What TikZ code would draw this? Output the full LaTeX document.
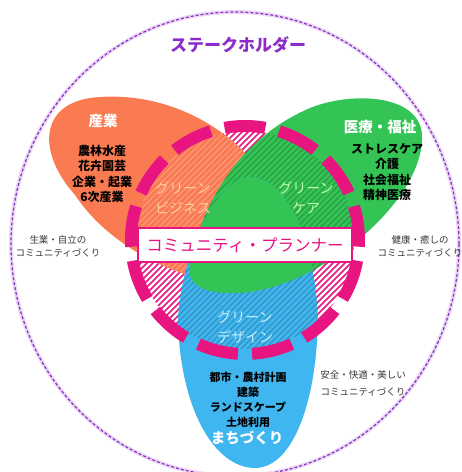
\documentclass[tikz,border=0pt]{standalone}
\usepackage{fontspec}
\setmainfont{Noto Sans CJK JP}
\usetikzlibrary{calc}

\definecolor{sangyo}{RGB}{250,122,82}
\definecolor{fukushi}{RGB}{52,196,86}
\definecolor{machi}{RGB}{64,182,240}
\definecolor{planner}{RGB}{232,20,128}
\definecolor{holder}{RGB}{140,44,200}
\definecolor{bizlight}{RGB}{255,205,160}
\definecolor{carelight}{RGB}{190,255,170}
\definecolor{designlight}{RGB}{195,240,255}
\definecolor{sidegray}{RGB}{55,55,55}

\tikzset{
  holdertext/.style={font=\fontsize{17}{20}\selectfont\bfseries, text=holder, inner sep=0pt},
  headtext/.style={font=\fontsize{14.5}{17}\selectfont\bfseries, text=white, inner sep=0pt},
  bodytext/.style={font=\fontsize{12}{15.5}\selectfont\bfseries, align=center, inner sep=0pt},
  greentext/.style={font=\fontsize{14}{20}\selectfont, align=center, inner sep=0pt},
  sidetext/.style={font=\fontsize{9.5}{13}\selectfont, text=sidegray, align=center, inner sep=0pt},
  plannerbox/.style={draw=planner, line width=2pt, fill=white, text=planner,
    font=\fontsize{16.5}{19}\selectfont, minimum width=214pt, minimum height=34pt, inner sep=0pt},
}

% petals
\newcommand\petalsangyo{(275,285) .. controls (200,292) and (115,255) .. (75,195)
  .. controls (35,150) and (40,100) .. (100,97) .. controls (175,92) and (250,135) .. (280,205)
  .. controls (295,245) and (295,283) .. (275,285) -- cycle}
\newcommand\petalfukushi{(190,265) .. controls (200,210) and (235,140) .. (310,108)
  .. controls (355,90) and (425,95) .. (422,140) .. controls (420,200) and (330,280) .. (250,292)
  .. controls (215,296) and (185,290) .. (190,265) -- cycle}
\newcommand\petalmachi{(250,177) .. controls (290,177) and (316,250) .. (318,320)
  .. controls (316,410) and (290,468) .. (255,468) .. controls (215,468) and (180,410) .. (178,320)
  .. controls (180,260) and (215,177) .. (250,177) -- cycle}
\newcommand\hatch[1]{\foreach \c in {320,326,...,656} \draw[#1] ({\c-120},120) -- ({\c-360},360);}

\begin{document}
\begin{tikzpicture}[x=1pt,y=-1pt]
  \useasboundingbox (0,0) rectangle (462,472);
  \coordinate (ring) at (245,240);

  % stakeholder circle
  \draw[holder!18, line width=4pt] (235,244) ellipse [x radius=224, y radius=232];
  \draw[holder, line width=1.2pt, dash pattern=on 3pt off 2pt] (235,244) ellipse [x radius=224, y radius=232];

  % inside of the ring
  \begin{scope}
    \clip (ring) circle [radius=109];
    \fill[white] (ring) circle [radius=109];
    \hatch{planner, line width=1.5pt}
  \end{scope}

  \fill[sangyo] \petalsangyo;
  \begin{scope}
    \clip (ring) circle [radius=109];
    \clip \petalsangyo;
    \hatch{white, opacity=.3, line width=1pt}
  \end{scope}

  \fill[fukushi] \petalfukushi;
  \begin{scope}
    \clip (ring) circle [radius=109];
    \clip \petalfukushi;
    \hatch{fukushi!55!black, opacity=.45, line width=1.2pt}
  \end{scope}

  \fill[machi] \petalmachi;
  \begin{scope}
    \clip (ring) circle [radius=109];
    \clip \petalmachi;
    \hatch{machi!50!black, opacity=.4, line width=1.2pt}
  \end{scope}

  \begin{scope}
    \clip \petalmachi;
    \fill[fukushi] \petalfukushi;
  \end{scope}

  \draw[planner, line width=12pt, dash pattern=on 41pt off 14.1pt, dash phase=34.3pt] (ring) circle [radius=114];

  % texts
  \node[holdertext] (holder) at (238,45) {ステークホルダー};
  \node[headtext] (sangyo) at (103,121) {産業};
  \node[bodytext] (sangyolist) at (102,174) {農林水産\\花卉園芸\\企業・起業\\6次産業};
  \node[greentext, text=bizlight] (business) at (183,198) {グリーン\\ビジネス};
  \node[headtext] (fukushi) at (380,127) {医療・福祉};
  \node[bodytext] (fukushilist) at (387,172) {ストレスケア\\介護\\社会福祉\\精神医療};
  \node[greentext, text=carelight] (care) at (306,198) {グリーン\\ケア};
  \node[sidetext] (jiritsu) at (58,246.5) {生業・自立の\\コミュニティづくり};
  \node[sidetext] (iyashi) at (420,246.5) {健康・癒しの\\コミュニティづくり};
  \node[plannerbox] (planner) at (245,245) {コミュニティ・プランナー};
  \node[greentext, text=designlight] (design) at (245,327.5) {グリーン\\デザイン};
  \node[bodytext, font=\fontsize{11}{15}\selectfont\bfseries] (machilist) at (248,400) {都市・農村計画\\建築\\ランドスケープ\\土地利用};
  \node[headtext] (machi) at (247,438) {まちづくり};
  \node[sidetext, font=\fontsize{9.5}{17}\selectfont] (anzen) at (363,383.5) {安全・快適・美しい\\コミュニティづくり};
\end{tikzpicture}
\end{document}
